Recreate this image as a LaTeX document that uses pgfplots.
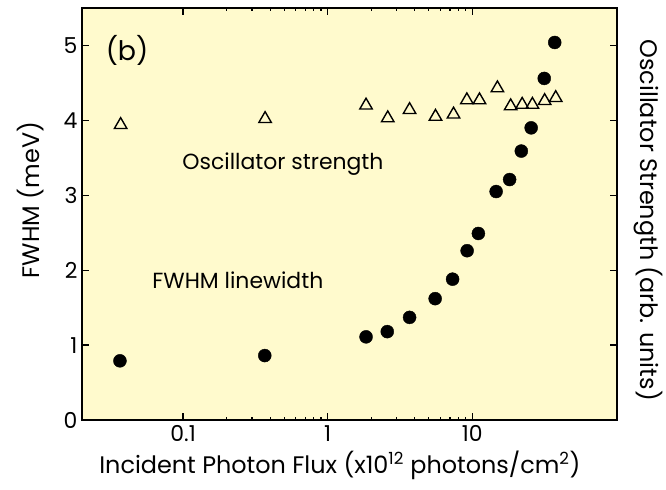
\documentclass[border=0pt]{standalone}
\usepackage{fontspec}
\setmainfont{Poppins}
\usepackage{pgfplots}
\pgfplotsset{compat=1.18}
\definecolor{bgyellow}{RGB}{255,250,205}
\begin{document}
\begin{tikzpicture}
\useasboundingbox (-82bp,-70bp) rectangle (584bp,420bp);
\begin{axis}[
  at={(0,0)}, anchor=south west,
  scale only axis, width=535bp, height=412bp,
  xmode=log, xmin=0.02, xmax=100,
  ymin=0, ymax=5.5,
  xtick={0.1,1,10}, xticklabels={0.1,1,10},
  ytick={0,1,2,3,4,5},
  minor xtick={}, minor ytick={},
  tick pos=both,
  tick align=inside, major tick length=7bp,
  tick style={black, line width=1.3bp},
  axis line style={line width=2bp},
  axis background/.style={fill=bgyellow},
  /pgf/number format/assume math mode=true,
  tick label style={font=\fontsize{22}{24}\selectfont},
  xticklabel style={yshift=-2bp},
  yticklabel style={xshift=-1bp},
  clip=false,
]
\addplot[only marks, mark=triangle, mark size=7.2bp, line width=1.4bp, black] coordinates {
(0.037,3.94) (0.369,4.02) (1.84,4.20) (2.6,4.03) (3.68,4.14) (5.56,4.05) (7.41,4.08)
(9.16,4.27) (11.2,4.27) (14.9,4.43) (18.4,4.19) (22.1,4.21) (26.0,4.21) (31.6,4.26) (37.7,4.30)
};
\addplot[only marks, mark=*, mark size=6.5bp, black] coordinates {
(0.0366,0.79) (0.367,0.86) (1.84,1.11) (2.58,1.18) (3.68,1.37) (5.53,1.62) (7.3,1.88)
(9.2,2.26) (11.0,2.49) (14.6,3.05) (18.1,3.21) (21.8,3.59) (25.5,3.90) (31.4,4.56) (37.1,5.04)
};
\node[font=\fontsize{27}{29}\selectfont] at (axis cs:0.041,4.93) {(b)};
\node[font=\fontsize{22}{24}\selectfont] at (axis cs:0.49,3.41) {Oscillator strength};
\node[font=\fontsize{22}{24}\selectfont] at (axis cs:0.239,1.86) {FWHM linewidth};
\node[font=\fontsize{24}{26}\selectfont, rotate=90] at (rel axis cs:-0.0953,0.534) {FWHM (meV)};
\node[font=\fontsize{24}{26}\selectfont, rotate=-90] at (rel axis cs:1.058,0.485) {Oscillator Strength (arb. units)};
\node[font=\fontsize{24}{26}\selectfont] at (rel axis cs:0.482,-0.109) {Incident Photon Flux (x10\textsuperscript{12} photons/cm\textsuperscript{2})};
\end{axis}
\end{tikzpicture}
\end{document}
